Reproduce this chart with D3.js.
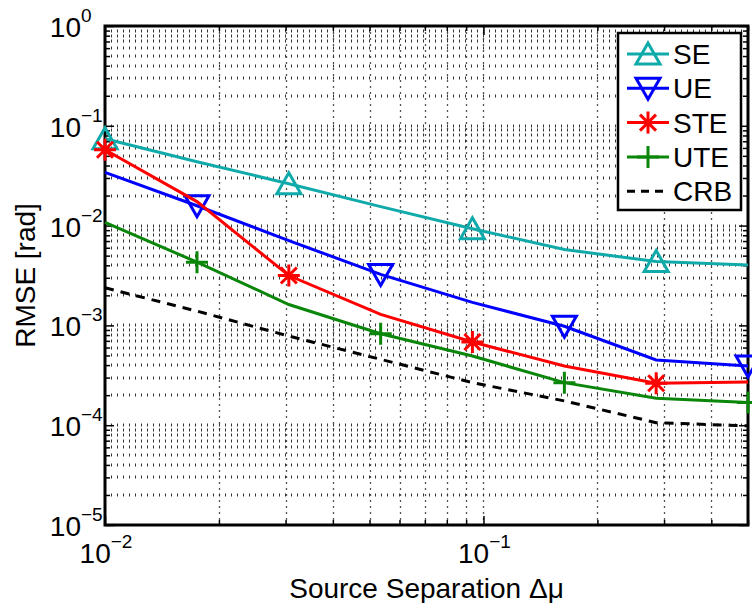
<!DOCTYPE html>
<html>
<head>
<meta charset="utf-8">
<script src="https://cdn.jsdelivr.net/npm/d3@7"></script>
<style>
body{margin:0;background:#fff}
svg{display:block}
text{font-family:"Liberation Sans",Arial,Helvetica,sans-serif;fill:#000}
</style>
</head>
<body>
<svg id="chart" width="752" height="603"></svg>
<script>
// source separation values (x) and RMSE per estimator
const separation = [0.01, 0.0175, 0.0306, 0.0535, 0.0935, 0.1636, 0.286, 0.5];
const seRmse  = [0.0741, 0.0437, 0.0263, 0.0155, 0.0093, 0.00575, 0.00437, 0.00403];
const ueRmse  = [0.0341, 0.0158, 0.00708, 0.00324, 0.0017, 0.00098, 0.00045, 0.000392];
const steRmse = [0.0575, 0.0174, 0.00316, 0.00129, 0.000681, 0.000392, 0.000263, 0.000271];
const uteRmse = [0.0108, 0.0043, 0.00162, 0.000826, 0.000493, 0.000267, 0.000186, 0.000169];
const crbRmse = [0.00238, 0.00139, 0.000782, 0.000457, 0.000267, 0.000175, 0.000106, 0.0000985];
const seriesNames = ["SE", "UE", "STE", "UTE", "CRB"];
const xMajor = [0.01, 0.1];
const yMajor = [1, 0.1, 0.01, 0.001, 0.0001, 0.00001];
const xTickExp = ["−2", "−1"];
const yTickExp = ["0", "−1", "−2", "−3", "−4", "−5"];

const series = [
  {name: "SE",  values: seRmse,  color: "#10aaaa", marker: "up",   every: 0, dash: null},
  {name: "UE",  values: ueRmse,  color: "#0000ff", marker: "down", every: 1, dash: null},
  {name: "STE", values: steRmse, color: "#ff0000", marker: "star", every: 0, dash: null},
  {name: "UTE", values: uteRmse, color: "#0a860a", marker: "plus", every: 1, dash: null},
  {name: "CRB", values: crbRmse, color: "#000000", marker: null,   every: 0, dash: "9,7"}
];

const L = 105, R = 748, T = 26, B = 525;
const svg = d3.select("#chart");
const x = d3.scaleLog().domain([0.01, 0.5]).range([L, R]);
const y = d3.scaleLog().domain([0.00001, 1]).range([B, T]);

// dotted grid (major + minor)
const grid = svg.append("g").attr("stroke", "#333").attr("stroke-width", 3).attr("stroke-dasharray", "1,5");
grid.selectAll(".gx").data(x.ticks().filter(v => x(v) > L + 1 && x(v) < R - 1)).join("line")
  .attr("x1", d => Math.round(x(d)) + 0.5).attr("x2", d => Math.round(x(d)) + 0.5)
  .attr("y1", T).attr("y2", B).attr("stroke-width", 1.3).attr("stroke-dasharray", "2,4").attr("stroke", "#555");
grid.selectAll(".gy").data(y.ticks().filter(v => y(v) > T + 1 && y(v) < B - 1)).join("line")
  .attr("x1", L).attr("x2", R)
  .attr("y1", d => Math.round(y(d))).attr("y2", d => Math.round(y(d)));

// ticks inside, all four sides
const axes = svg.append("g");
function tickAxis(axisFn, scale, vals, size, tr) {
  axes.append("g").attr("transform", tr)
    .call(axisFn(scale).tickValues(vals).tickSize(size).tickFormat(""))
    .call(g => g.select(".domain").remove())
    .call(g => g.selectAll("line").attr("stroke", "#000").attr("stroke-width", 1.5));
}
const xMinor = x.ticks().filter(v => xMajor.indexOf(v) < 0);
const yMinor = y.ticks().filter(v => yMajor.indexOf(v) < 0);
tickAxis(d3.axisBottom, x, xMajor, -9, `translate(0,${B})`);
tickAxis(d3.axisBottom, x, xMinor, -5, `translate(0,${B})`);
tickAxis(d3.axisTop, x, xMajor, -9, `translate(0,${T})`);
tickAxis(d3.axisTop, x, xMinor, -5, `translate(0,${T})`);
tickAxis(d3.axisLeft, y, yMajor, -9, `translate(${L},0)`);
tickAxis(d3.axisLeft, y, yMinor, -5, `translate(${L},0)`);
tickAxis(d3.axisRight, y, yMajor, -9, `translate(${R},0)`);
tickAxis(d3.axisRight, y, yMinor, -5, `translate(${R},0)`);

axes.append("rect").attr("x", L).attr("y", T).attr("width", R - L).attr("height", B - T)
  .attr("fill", "none").attr("stroke", "#000").attr("stroke-width", 3);

// tick labels
xMajor.forEach((v, i) => {
  const t = svg.append("text").attr("x", x(v) + 1).attr("y", B + 38)
    .attr("text-anchor", "middle").attr("font-size", 28);
  t.append("tspan").text("10");
  t.append("tspan").attr("font-size", 19).attr("dy", -15).text(xTickExp[i]);
});
yMajor.forEach((v, i) => {
  svg.append("text").attr("x", 81).attr("y", y(v) + 11).attr("text-anchor", "end")
    .attr("font-size", 28).text("10");
  svg.append("text").attr("x", 81).attr("y", y(v) - 4).attr("font-size", 19).text(yTickExp[i]);
});

svg.append("text").attr("x", (L + R) / 2).attr("y", 598).attr("text-anchor", "middle")
  .attr("font-size", 28).text("Source Separation Δμ");
svg.append("text").attr("transform", `translate(35,${(T + B) / 2}) rotate(-90)`)
  .attr("text-anchor", "middle").attr("font-size", 28).text("RMSE [rad]");

// markers
function markerPath(type, cx, cy) {
  if (type === "up") return `M${cx},${cy - 11}L${cx + 12},${cy + 10}L${cx - 12},${cy + 10}Z`;
  if (type === "down") return `M${cx},${cy + 11}L${cx + 12},${cy - 10}L${cx - 12},${cy - 10}Z`;
  if (type === "plus") return `M${cx - 11},${cy}H${cx + 11}M${cx},${cy - 11}V${cy + 11}`;
  if (type === "star") return `M${cx - 11},${cy}H${cx + 11}M${cx},${cy - 11}V${cy + 11}` +
    `M${cx - 8},${cy - 8}L${cx + 8},${cy + 8}M${cx - 8},${cy + 8}L${cx + 8},${cy - 8}`;
  return "";
}

const line = d3.line().x(d => x(d[0])).y(d => y(d[1]));
const plot = svg.append("g");
series.forEach(s => {
  const pts = separation.map((sx, i) => [sx, s.values[i]]);
  plot.append("path").attr("d", line(pts)).attr("fill", "none")
    .attr("stroke", s.color).attr("stroke-width", 3)
    .attr("stroke-dasharray", s.dash);
  if (s.marker) {
    plot.selectAll(null).data(pts.filter((p, i) => i % 2 === s.every)).join("path")
      .attr("d", p => markerPath(s.marker, x(p[0]), y(p[1])))
      .attr("fill", "none").attr("stroke", s.color).attr("stroke-width", 3);
  }
});

// legend
const lg = svg.append("g");
lg.append("rect").attr("x", 618).attr("y", 33).attr("width", 123).attr("height", 177)
  .attr("fill", "#fff").attr("stroke", "#000").attr("stroke-width", 2.5);
series.forEach((s, i) => {
  const cy = 54 + i * 34.3;
  lg.append("line").attr("x1", 627).attr("x2", 669).attr("y1", cy).attr("y2", cy)
    .attr("stroke", s.color).attr("stroke-width", 3).attr("stroke-dasharray", s.dash ? "8,6" : null);
  if (s.marker) lg.append("path").attr("d", markerPath(s.marker, 648, cy))
    .attr("fill", "none").attr("stroke", s.color).attr("stroke-width", 3);
  lg.append("text").attr("x", 673).attr("y", cy + 10).attr("font-size", 28).text(seriesNames[i]);
});
</script>
</body>
</html>
